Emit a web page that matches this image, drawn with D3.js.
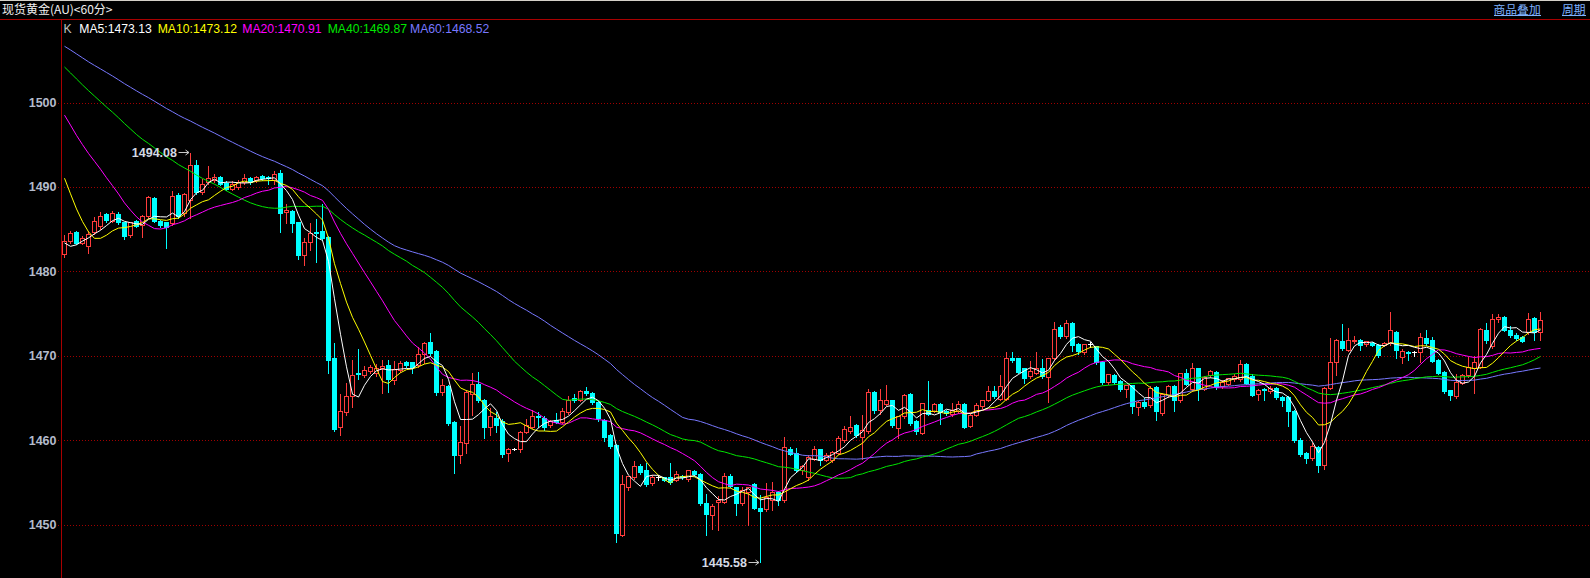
<!DOCTYPE html>
<html><head><meta charset="utf-8">
<script src="https://cdn.jsdelivr.net/npm/d3@7"></script>
<style>
html,body{margin:0;padding:0;background:#000;overflow:hidden;}
svg{display:block;}
</style></head><body>
<svg id="c" width="1590" height="578"></svg>
<script>
// ---------- data ----------
const titleText = "现货黄金(AU)<60分>";
const topLinks = ["商品叠加", "周期"];
const yTicks = [1450, 1460, 1470, 1480, 1490, 1500];
const maPeriods = [5, 10, 20, 40, 60];
const legendValues = [1473.13, 1473.12, 1470.91, 1469.87, 1468.52];

// closes before the first visible bar (needed for the moving averages)
const priorCloses = [
1510.8,1511.4,1512.0,1512.5,1511.8,1511.1,1511.6,1512.2,1512.6,1511.9,
1511.3,1510.9,1511.5,1512.1,1511.7,1511.0,1511.4,1511.9,1511.2,1510.8,
1512.4,1511.8,1512.3,1511.5,1512.0,1512.6,1511.9,1511.4,1512.1,1511.7,
1511.6,1511.5,1509.5,1508.2,1507.4,1506.8,1506.1,1505.9,1506.3,1505.0,
1508.2,1507.6,1506.0,1505.2,1504.6,1505.4,1506.3,1505.8,1505.1,1505.6,
1503.0,1501.2,1499.0,1496.5,1493.8,1486.5,1482.4,1481.8,1482.5];

const opens = [
1482.0,1483.6,1484.6,1483.4,1483.0,1484.7,1485.4,1486.8,1486.0,1486.8,
1485.8,1484.3,1486.0,1485.5,1486.5,1488.7,1486.0,1485.8,1485.7,1489.0,
1486.9,1488.5,1492.6,1489.4,1490.6,1490.8,1491.2,1490.5,1489.8,1490.0,
1490.6,1491.1,1490.8,1491.3,1491.2,1490.8,1491.6,1487.0,1487.1,1485.8,
1481.9,1483.5,1484.7,1484.8,1484.1,1469.7,1461.5,1463.3,1465.2,1468.0,
1467.7,1468.2,1468.0,1468.5,1468.9,1467.1,1468.3,1469.3,1469.2,1468.9,
1470.2,1471.6,1470.5,1465.7,1466.4,1462.2,1458.2,1459.7,1465.5,1466.7,
1464.7,1461.6,1462.6,1462.3,1458.5,1459.0,1458.9,1461.0,1461.6,1462.8,
1462.6,1461.8,1462.4,1462.2,1463.3,1465.0,1464.8,1465.8,1465.6,1464.5,
1462.4,1460.6,1459.4,1448.8,1454.4,1455.6,1456.9,1456.5,1454.9,1455.6,
1455.6,1455.6,1455.3,1455.8,1455.4,1456.3,1456.0,1452.5,1451.1,1452.7,
1452.7,1455.8,1454.4,1452.5,1453.9,1454.8,1452.0,1451.8,1452.9,1453.9,
1452.9,1459.0,1458.5,1456.4,1455.6,1457.8,1458.9,1457.7,1457.6,1458.5,
1460.0,1461.1,1461.8,1460.4,1461.1,1465.7,1463.6,1464.3,1464.7,1461.4,
1462.8,1465.5,1462.3,1460.9,1463.6,1463.5,1464.3,1463.5,1463.1,1463.4,
1464.3,1461.7,1463.0,1464.0,1464.8,1465.8,1464.9,1464.9,1469.7,1469.7,
1468.5,1467.6,1468.0,1468.5,1467.5,1469.7,1473.4,1472.3,1473.9,1471.4,
1470.4,1471.4,1471.1,1469.3,1466.9,1467.7,1467.0,1466.1,1466.5,1463.9,
1464.5,1464.1,1466.3,1463.2,1465.3,1466.4,1464.7,1468.0,1466.0,1468.5,
1466.1,1467.7,1468.1,1466.4,1466.7,1467.2,1467.2,1469.0,1467.6,1465.5,
1466.1,1465.8,1466.2,1465.1,1465.1,1463.5,1460.0,1458.5,1457.9,1459.2,
1457.0,1466.2,1469.2,1471.8,1470.7,1471.7,1471.9,1471.4,1471.5,1471.3,
1471.3,1471.5,1472.8,1469.8,1470.4,1470.4,1470.4,1472.1,1471.9,1469.5,
1468.1,1465.9,1465.2,1466.8,1467.7,1468.5,1468.7,1473.1,1471.1,1474.3,
1474.6,1473.1,1472.4,1472.2,1472.8,1474.5,1472.8];

const highs = [
1484.4,1484.9,1484.9,1484.3,1484.9,1486.6,1487.2,1487.0,1487.3,1487.1,
1486.0,1486.0,1486.2,1486.8,1489.0,1488.9,1486.2,1486.0,1489.6,1489.4,
1489.4,1494.08,1493.3,1491.0,1492.6,1491.6,1491.4,1490.8,1490.8,1490.9,
1491.7,1491.3,1491.4,1491.5,1491.4,1492.0,1492.1,1488.1,1487.4,1486.0,
1484.1,1485.9,1486.3,1488.1,1484.3,1471.6,1465.6,1466.9,1469.6,1470.9,
1468.9,1469.0,1469.1,1469.6,1469.6,1469.5,1469.5,1469.5,1469.4,1471.1,
1471.8,1472.8,1470.8,1467.3,1466.7,1462.4,1461.8,1466.0,1468.1,1468.2,
1465.0,1463.9,1463.5,1462.6,1459.2,1459.2,1461.2,1462.6,1463.7,1463.5,
1463.0,1462.5,1463.3,1463.9,1465.3,1465.6,1466.1,1466.4,1465.8,1464.7,
1462.6,1460.8,1459.6,1456.0,1455.9,1457.7,1457.3,1457.4,1456.0,1456.0,
1455.8,1457.4,1456.4,1456.0,1456.6,1456.6,1456.2,1453.7,1452.5,1453.5,
1456.2,1456.1,1454.6,1454.6,1454.6,1455.0,1453.6,1455.0,1455.2,1454.1,
1460.5,1459.3,1459.2,1457.2,1458.4,1459.4,1459.1,1458.6,1458.8,1460.6,
1461.8,1463.0,1462.0,1463.1,1466.2,1465.9,1466.2,1466.6,1464.9,1463.0,
1465.6,1465.7,1462.5,1464.5,1467.1,1464.5,1464.5,1463.7,1464.5,1464.7,
1464.5,1463.2,1464.5,1464.9,1466.5,1466.5,1467.8,1470.5,1470.6,1469.9,
1468.7,1469.5,1470.5,1469.7,1469.9,1474.1,1473.8,1474.4,1474.1,1471.6,
1471.5,1471.7,1471.3,1469.5,1468.0,1467.9,1467.2,1466.7,1466.7,1464.7,
1465.1,1466.5,1466.5,1465.7,1466.6,1466.6,1468.1,1468.5,1469.3,1468.7,
1467.7,1468.4,1468.3,1467.2,1467.5,1467.9,1469.6,1469.2,1468.0,1466.2,
1466.3,1466.5,1466.4,1465.3,1465.3,1463.7,1460.4,1458.7,1459.8,1459.4,
1466.4,1472.2,1472.1,1473.9,1473.4,1472.4,1472.1,1471.9,1471.7,1471.5,
1471.7,1475.3,1473.0,1470.9,1470.7,1470.7,1472.8,1473.2,1472.3,1469.7,
1468.3,1466.1,1468.0,1468.0,1470.0,1470.1,1473.4,1474.0,1475.1,1475.1,
1474.8,1473.6,1472.8,1472.4,1475.2,1474.7,1475.3];

const lows = [
1481.7,1483.3,1483.2,1483.2,1482.2,1484.4,1485.0,1485.9,1485.8,1485.6,
1483.8,1484.1,1485.2,1484.1,1486.3,1485.8,1485.3,1482.8,1485.5,1486.3,
1486.5,1486.3,1489.2,1489.2,1490.4,1490.6,1490.2,1489.6,1489.6,1489.8,
1490.4,1490.4,1490.6,1490.8,1490.4,1490.4,1484.7,1485.7,1484.7,1481.5,
1480.7,1482.5,1481.1,1483.7,1467.9,1461.1,1460.6,1463.0,1463.9,1467.2,
1467.5,1468.0,1467.6,1465.6,1465.7,1466.7,1468.1,1468.7,1467.9,1468.7,
1469.1,1470.1,1465.3,1465.3,1461.8,1456.1,1457.3,1458.5,1463.0,1464.5,
1460.2,1460.6,1461.0,1458.0,1457.5,1458.8,1458.6,1460.8,1461.4,1461.6,
1461.2,1461.6,1462.0,1462.0,1463.1,1464.5,1464.6,1465.4,1464.3,1462.3,
1459.9,1459.1,1447.9,1448.6,1454.1,1455.4,1456.0,1454.6,1454.7,1455.3,
1455.1,1454.8,1455.1,1455.4,1455.2,1455.8,1452.3,1448.7,1449.5,1449.3,
1452.5,1454.4,1451.1,1452.3,1449.9,1451.8,1445.58,1451.6,1451.7,1452.3,
1452.7,1458.2,1456.2,1456.0,1455.3,1457.6,1457.0,1457.5,1457.4,1458.3,
1459.8,1460.9,1460.4,1457.8,1460.9,1463.2,1463.1,1464.1,1461.6,1460.2,
1462.6,1461.8,1460.7,1460.7,1463.0,1463.3,1461.9,1463.0,1462.9,1463.2,
1461.4,1461.5,1462.8,1463.8,1464.6,1465.0,1464.7,1464.7,1469.3,1467.9,
1466.8,1467.4,1467.8,1467.4,1464.5,1469.5,1472.1,1472.1,1470.5,1470.2,
1470.2,1471.0,1469.0,1466.7,1466.7,1466.7,1465.8,1465.1,1463.2,1463.0,
1463.8,1463.9,1462.4,1463.0,1465.1,1463.4,1464.5,1466.5,1465.8,1464.7,
1465.9,1467.5,1466.1,1466.2,1466.5,1467.0,1467.0,1466.6,1465.2,1464.8,
1464.7,1465.6,1464.9,1464.0,1461.7,1459.8,1458.1,1457.3,1457.7,1456.2,
1456.6,1466.0,1467.7,1470.7,1470.5,1471.5,1470.7,1471.2,1471.1,1469.9,
1471.1,1471.3,1469.7,1469.1,1469.5,1470.0,1469.3,1471.3,1469.2,1467.8,
1465.6,1464.8,1465.0,1466.6,1467.5,1465.6,1468.5,1471.5,1470.9,1474.0,
1472.9,1472.2,1471.9,1471.6,1472.6,1471.9,1471.9];

const closes = [
1483.6,1484.5,1483.3,1484.0,1484.4,1486.0,1486.6,1486.1,1486.9,1485.8,
1484.2,1485.8,1485.4,1486.6,1488.8,1486.0,1485.5,1485.3,1488.9,1486.5,
1489.1,1492.6,1489.4,1490.4,1491.0,1491.2,1490.4,1489.8,1490.4,1490.6,
1491.1,1490.6,1491.2,1491.0,1491.1,1491.5,1486.9,1487.3,1485.7,1481.9,
1483.5,1484.5,1484.5,1483.9,1469.5,1461.3,1463.5,1465.2,1467.7,1467.8,
1468.3,1468.7,1468.6,1468.8,1467.2,1468.4,1469.1,1468.9,1468.7,1470.2,
1471.5,1470.3,1465.7,1466.5,1462.0,1458.2,1459.8,1465.7,1466.7,1464.7,
1461.6,1462.8,1461.8,1458.3,1459.0,1459.0,1461.0,1461.8,1462.8,1462.7,
1461.6,1462.3,1462.2,1463.4,1464.7,1464.8,1465.8,1465.6,1464.5,1462.6,
1460.4,1459.3,1449.0,1454.8,1455.7,1456.9,1456.2,1454.8,1455.6,1455.6,
1455.3,1455.0,1456.0,1455.6,1456.4,1456.0,1452.5,1451.2,1452.2,1452.9,
1455.7,1454.6,1452.5,1454.1,1454.4,1452.0,1451.6,1453.3,1453.9,1452.9,
1459.2,1458.4,1456.4,1456.9,1458.0,1458.9,1457.7,1458.2,1458.6,1460.2,
1461.3,1461.6,1460.6,1461.2,1465.7,1463.6,1464.7,1464.7,1461.8,1462.8,
1465.4,1462.0,1461.1,1464.4,1463.1,1464.3,1463.3,1463.2,1463.6,1464.3,
1461.6,1463.0,1464.1,1464.7,1465.8,1465.2,1466.4,1469.7,1469.5,1468.1,
1467.4,1468.2,1468.5,1467.6,1469.7,1473.2,1472.3,1473.9,1471.3,1470.6,
1471.4,1471.4,1469.2,1466.9,1467.8,1466.9,1466.1,1466.5,1464.0,1464.5,
1464.0,1466.2,1463.4,1465.5,1466.4,1464.7,1467.9,1466.7,1468.5,1466.0,
1467.5,1468.2,1466.3,1466.9,1467.3,1467.6,1469.0,1466.8,1465.4,1465.9,
1465.9,1466.2,1465.1,1464.8,1463.4,1460.0,1458.3,1457.9,1459.3,1457.0,
1466.2,1469.2,1471.9,1470.9,1471.9,1471.9,1471.3,1471.7,1471.3,1470.1,
1471.5,1473.0,1470.7,1470.6,1470.3,1470.4,1472.2,1471.5,1469.4,1468.0,
1465.8,1465.3,1466.9,1467.7,1468.7,1469.2,1473.2,1471.9,1474.4,1474.6,
1473.1,1472.4,1472.1,1471.8,1474.4,1472.8,1474.2];

// ---------- drawing ----------
const W = 1590, H = 578;
const N = closes.length;
const svg = d3.select('#c');
svg.append('rect').attr('width', W).attr('height', H).attr('fill', '#000');
svg.append('rect').attr('x', 0).attr('y', 0).attr('width', W).attr('height', 1).attr('fill', '#d4d0c8');

const plotLeft = 61.5, plotTop = 19.5;
const x = d3.scaleBand().domain(d3.range(N)).range([plotLeft, plotLeft + 6 * N]).padding(0);
const xC = i => x(i) + x.bandwidth() / 2;
const y = d3.scaleLinear().domain([1450, 1500]).range([524.5, 102.5]);
const py = v => Math.round(y(v)) + 0.5;

// grid
const grid = svg.append('g');
yTicks.forEach(t => {
  grid.append('line').attr('x1', 58).attr('x2', W).attr('y1', py(t)).attr('y2', py(t))
    .attr('stroke', '#a00000').attr('stroke-dasharray', '1,2').attr('shape-rendering', 'crispEdges');
});

// y axis labels via d3 axis
const axisG = svg.append('g').attr('transform', `translate(${plotLeft},0)`)
  .call(d3.axisLeft(y).tickValues(yTicks).tickSize(0).tickPadding(5).tickFormat(d3.format('d')));
axisG.select('.domain').remove();
axisG.selectAll('text').attr('fill', '#b4bccc').attr('font-family', 'Liberation Sans, Arial, sans-serif')
  .attr('font-size', 12.5).attr('font-weight', 'bold');

// frame lines
svg.append('line').attr('x1', 0).attr('x2', W).attr('y1', plotTop).attr('y2', plotTop)
  .attr('stroke', '#a80000').attr('shape-rendering', 'crispEdges');
svg.append('line').attr('x1', plotLeft).attr('x2', plotLeft).attr('y1', plotTop).attr('y2', H)
  .attr('stroke', '#a80000').attr('shape-rendering', 'crispEdges');

// candles
const UP = '#ff3c3c', DOWN = '#00ffff', DOJI = '#ffffff';
const cg = svg.append('g').attr('shape-rendering', 'crispEdges');
d3.range(N).forEach(i => {
  const o = opens[i], c = closes[i], h = highs[i], l = lows[i];
  const cx = Math.floor(xC(i)) + 0.5;
  const g = cg.append('g');
  if (o === c) {
    g.append('line').attr('x1', cx).attr('x2', cx).attr('y1', py(h)).attr('y2', py(l)).attr('stroke', DOJI);
    g.append('line').attr('x1', cx - 2.5).attr('x2', cx + 2.5).attr('y1', py(o)).attr('y2', py(o)).attr('stroke', DOJI);
  } else if (c > o) {
    const top = py(c), bot = py(o);
    g.append('line').attr('x1', cx).attr('x2', cx).attr('y1', py(h)).attr('y2', top).attr('stroke', UP);
    g.append('line').attr('x1', cx).attr('x2', cx).attr('y1', bot).attr('y2', py(l)).attr('stroke', UP);
    g.append('rect').attr('x', cx - 2).attr('y', top).attr('width', 4).attr('height', Math.max(1, bot - top))
      .attr('fill', '#000').attr('stroke', UP);
  } else {
    const top = Math.round(y(o)), bot = Math.round(y(c));
    g.append('line').attr('x1', cx).attr('x2', cx).attr('y1', py(h)).attr('y2', py(l)).attr('stroke', DOWN);
    g.append('rect').attr('x', cx - 2.5).attr('y', top).attr('width', 5).attr('height', Math.max(1, bot - top + 1))
      .attr('fill', DOWN);
  }
});

// moving averages
const maColors = ['#ffffff', '#ffff00', '#ff00ff', '#00e600', '#7878ff'];
const allCloses = priorCloses.concat(closes);
const off = priorCloses.length;
const maSeries = maPeriods.map(n => closes.map((_, i) => d3.mean(allCloses.slice(off + i - n + 1, off + i + 1))));
const line = d3.line().x((d, i) => xC(i)).y(d => y(d));
maSeries.slice().reverse().forEach((s, k) => {
  const idx = maSeries.length - 1 - k;
  svg.append('path').attr('d', line(s)).attr('fill', 'none').attr('stroke', maColors[idx]).attr('stroke-width', 1);
});

// high / low annotations
const hiIdx = d3.maxIndex(highs), loIdx = d3.minIndex(lows);
function annot(i, v) {
  const cx = Math.floor(xC(i)) + 0.5, yy = Math.round(y(v)) + 0.5;
  svg.append('text').attr('x', cx - 13.5).attr('y', yy).attr('dy', '0.36em').attr('text-anchor', 'end')
    .attr('font-family', 'Liberation Sans, Arial, sans-serif').attr('font-size', 12.5).attr('font-weight', 'bold')
    .attr('fill', '#d4dae4').text(v.toFixed(2));
  svg.append('path').attr('d', `M${cx - 12},${yy}H${cx - 1.5}M${cx - 5},${yy - 2.5}L${cx - 1.5},${yy}L${cx - 5},${yy + 2.5}`)
    .attr('stroke', '#c8c8c8').attr('fill', 'none');
}
annot(hiIdx, highs[hiIdx]);
annot(loIdx, lows[loIdx]);

// title
svg.append('text').attr('x', 2).attr('y', 14).attr('fill', '#f0f0f0')
  .attr('font-family', 'Noto Sans CJK SC, sans-serif').attr('font-size', 12).text(titleText);

// top-right links
const linkX = [1493.5, 1562];
topLinks.forEach((t, k) => {
  const tx = svg.append('text').attr('x', linkX[k]).attr('y', 14).attr('fill', '#7fb2ff')
    .attr('font-family', 'Noto Sans CJK SC, sans-serif').attr('font-size', 11.8).text(t);
  const w = tx.node().getComputedTextLength();
  svg.append('line').attr('x1', linkX[k]).attr('x2', linkX[k] + w).attr('y1', 15.5).attr('y2', 15.5)
    .attr('stroke', '#7fb2ff').attr('shape-rendering', 'crispEdges');
});

// legend
const legFont = 'Liberation Sans, Arial, sans-serif';
svg.append('text').attr('x', 63.5).attr('y', 33).attr('fill', '#c0c0c0').attr('font-family', legFont)
  .attr('font-size', 12.2).text('K');
const legX = [79.3, 157.7, 242.3, 327.7, 410];
maPeriods.forEach((p, k) => {
  svg.append('text').attr('x', legX[k]).attr('y', 33).attr('fill', maColors[k]).attr('font-family', legFont)
    .attr('font-size', 12.2).text(`MA${p}:${legendValues[k].toFixed(2)}`);
});
</script>
</body></html>
